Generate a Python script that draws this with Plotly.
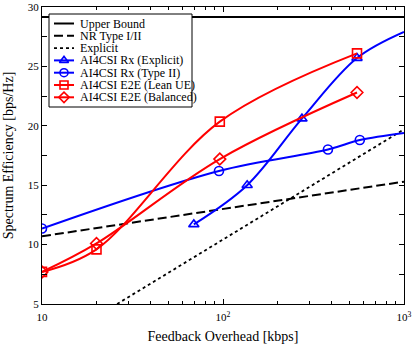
import plotly.graph_objects as go

# ---- data ----
ub_x = [10, 1000]
ub_y = [29.15, 29.15]

nr_x = [10, 1000]
nr_y = [10.7, 15.3]

expl_x = [26, 1000]
expl_y = [5.0, 19.7]

rx_expl_x = [69, 136, 273, 550, 1000]
rx_expl_y = [11.7, 15.0, 20.6, 25.7, 27.9]
rx_expl_mk = [True, True, True, True, False]

rx_t2_x = [10, 95, 380, 570, 1000]
rx_t2_y = [11.35, 16.2, 18.0, 18.8, 19.4]
rx_t2_mk = [True, True, True, True, False]

lean_x = [10, 20, 96, 550]
lean_y = [7.7, 9.6, 20.35, 26.1]

bal_x = [10, 20, 96, 550]
bal_y = [7.7, 10.1, 17.2, 22.8]

x_tickvals = [10, 100, 1000]
x_ticktext = ["10", "10<sup>2</sup>", "10<sup>3</sup>"]
y_tickvals = [5, 10, 15, 20, 25, 30]

legend_names = ["Upper Bound", "NR Type I/II", "Explicit",
                "AI4CSI Rx (Explicit)", "AI4CSI Rx (Type II)",
                "AI4CSI E2E (Lean UE)", "AI4CSI E2E (Balanced)"]

BLUE = "rgb(0,0,255)"
RED = "rgb(255,0,0)"
FONT = "Liberation Serif"

W, H = 416, 347
ML, MR, MT, MB = 42, 12, 7, 43

styles = [
    dict(color="black", width=2, dash="solid", symbol=None),
    dict(color="black", width=2, dash="9px,4px", symbol=None),
    dict(color="black", width=1.8, dash="dot", symbol=None),
    dict(color=BLUE, width=2, dash="solid", symbol="triangle-up-open"),
    dict(color=BLUE, width=2, dash="solid", symbol="circle-open"),
    dict(color=RED, width=2, dash="solid", symbol="square-open"),
    dict(color=RED, width=2, dash="solid", symbol="diamond-open"),
]

fig = go.Figure()


def plain(xs, ys, st):
    fig.add_trace(go.Scatter(x=xs, y=ys, mode="lines", showlegend=False, hoverinfo="skip",
                             line=dict(color=st["color"], width=st["width"], dash=st["dash"])))


def curve(xs, ys, flags, st):
    fig.add_trace(go.Scatter(x=xs, y=ys, mode="lines", showlegend=False,
                             line=dict(color=st["color"], width=st["width"],
                                       shape="spline", smoothing=1.0)))
    mx = [x for x, f in zip(xs, flags) if f]
    my = [y for y, f in zip(ys, flags) if f]
    fig.add_trace(go.Scatter(x=mx, y=my, mode="markers", showlegend=False,
                             marker=dict(symbol=st["symbol"], size=9, color=st["color"],
                                         line=dict(color=st["color"], width=1.6))))


plain(ub_x, ub_y, styles[0])
plain(nr_x, nr_y, styles[1])
plain(expl_x, expl_y, styles[2])
curve(rx_expl_x, rx_expl_y, rx_expl_mk, styles[3])
curve(rx_t2_x, rx_t2_y, rx_t2_mk, styles[4])
curve(lean_x, lean_y, [True] * len(lean_x), styles[5])
curve(bal_x, bal_y, [True] * len(bal_x), styles[6])

# ---- hand-built legend on an overlay axis measured in pixels ----
LEG_L, LEG_R, LEG_T, LEG_B = 49, 192, 14, 107
ROW0, ROWSTEP = 23.5, 12.3
SAMPLE_X0, SAMPLE_X1, TEXT_X = 54, 74, 78

fig.add_trace(go.Scatter(x=[LEG_L, LEG_R, LEG_R, LEG_L, LEG_L],
                         y=[LEG_T, LEG_T, LEG_B, LEG_B, LEG_T],
                         mode="lines", fill="toself", fillcolor="white",
                         line=dict(color="black", width=1), showlegend=False,
                         hoverinfo="skip", xaxis="x2", yaxis="y2"))
annotations = []
for i, (name, st) in enumerate(zip(legend_names, styles)):
    yy = ROW0 + i * ROWSTEP
    fig.add_trace(go.Scatter(x=[SAMPLE_X0, SAMPLE_X1], y=[yy, yy], mode="lines",
                             line=dict(color=st["color"], width=st["width"], dash=st["dash"]),
                             showlegend=False, hoverinfo="skip", xaxis="x2", yaxis="y2"))
    if st["symbol"]:
        fig.add_trace(go.Scatter(x=[(SAMPLE_X0 + SAMPLE_X1) / 2], y=[yy], mode="markers",
                                 marker=dict(symbol=st["symbol"], size=8, color=st["color"],
                                             line=dict(color=st["color"], width=1.6)),
                                 showlegend=False, hoverinfo="skip", xaxis="x2", yaxis="y2"))
    annotations.append(dict(x=TEXT_X, y=yy, xref="x2", yref="y2", text=name,
                            showarrow=False, xanchor="left", yanchor="middle",
                            font=dict(family=FONT, size=12, color="black")))

fig.update_layout(
    width=W, height=H,
    margin=dict(l=ML, r=MR, t=MT, b=MB, autoexpand=False),
    paper_bgcolor="white", plot_bgcolor="white",
    font=dict(family=FONT, size=11, color="black"),
    showlegend=False,
    annotations=annotations,
    xaxis=dict(
        type="log", range=[1, 3], automargin=False,
        tickvals=x_tickvals, ticktext=x_ticktext, ticklabeloverflow="allow",
        ticks="inside", ticklen=5, tickcolor="black", tickwidth=1,
        minor=dict(ticks="inside", ticklen=3, tickcolor="black", dtick="D1", showgrid=False),
        showline=True, linecolor="black", linewidth=1, mirror="ticks",
        showgrid=False, zeroline=False,
        title=dict(text="Feedback Overhead [kbps]", font=dict(family=FONT, size=14), standoff=8),
        tickfont=dict(family=FONT, size=11),
        ticklabelstandoff=3,
    ),
    yaxis=dict(
        range=[5, 30], automargin=False,
        tickvals=y_tickvals, ticklabeloverflow="allow",
        ticks="inside", ticklen=5, tickcolor="black", tickwidth=1,
        minor=dict(ticks="inside", ticklen=5, tickcolor="black", dtick=2.5, showgrid=False),
        showline=True, linecolor="black", linewidth=1, mirror="ticks",
        showgrid=False, zeroline=False,
        title=dict(text="Spectrum Efficiency [bps/Hz]", font=dict(family=FONT, size=14), standoff=10),
        tickfont=dict(family=FONT, size=11),
    ),
    xaxis2=dict(overlaying="x", anchor="y2", range=[ML, W - MR], visible=False,
                fixedrange=True),
    yaxis2=dict(overlaying="y", anchor="x2", range=[H - MB, MT], visible=False,
                fixedrange=True),
)

fig.write_html("out.html", config={"displayModeBar": False},
               post_script="document.body.style.margin='0px';")
